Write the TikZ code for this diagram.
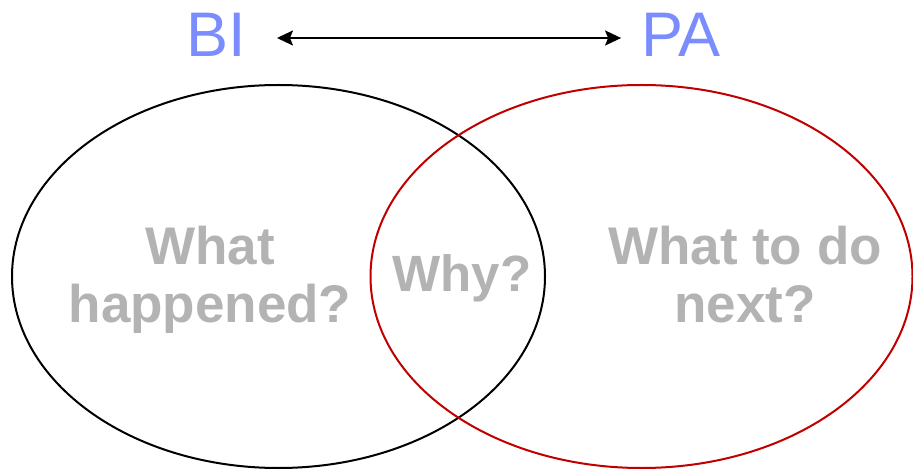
\documentclass[tikz,border=0pt]{standalone}
\usepackage{fontspec}
\setmainfont{Liberation Sans}
\usetikzlibrary{arrows.meta}

\definecolor{labelblue}{RGB}{123,140,255}
\definecolor{textgray}{RGB}{179,179,179}
\definecolor{darkred}{RGB}{192,0,0}

\tikzset{
  title/.style={inner sep=0pt,anchor=base,text=labelblue,font=\fontsize{63}{70}\selectfont},
  question/.style={inner sep=0pt,anchor=base,align=center,text=textgray,font=\fontsize{53}{58}\selectfont\bfseries},
  link/.style={line width=2pt,>={Stealth[length=16pt,width=15pt,inset=3pt]},<->},
}

\begin{document}
\begin{tikzpicture}[x=1pt,y=-1pt]
\useasboundingbox (0,0) rectangle (913,470);

\draw[line width=2pt] (278.5,276.5) ellipse [x radius=266.5pt,y radius=191.5pt];
\draw[line width=2pt,darkred] (641.5,276.5) ellipse [x radius=271pt,y radius=191.5pt];

\node[title] (bi) at (216,57) {BI};
\node[title] (pa) at (681,57) {PA};
\draw[link] ([xshift=31pt,yshift=19pt]bi.base east) -- ([xshift=-20pt,yshift=19pt]pa.base west);

\node[question] (happened) at (210,323) {What\\happened?};
\node[question,font=\fontsize{51}{58}\selectfont\bfseries] (why) at (462,292) {Why?};
\node[question] (next) at (745,323) {What to do\\next?};
\end{tikzpicture}
\end{document}
